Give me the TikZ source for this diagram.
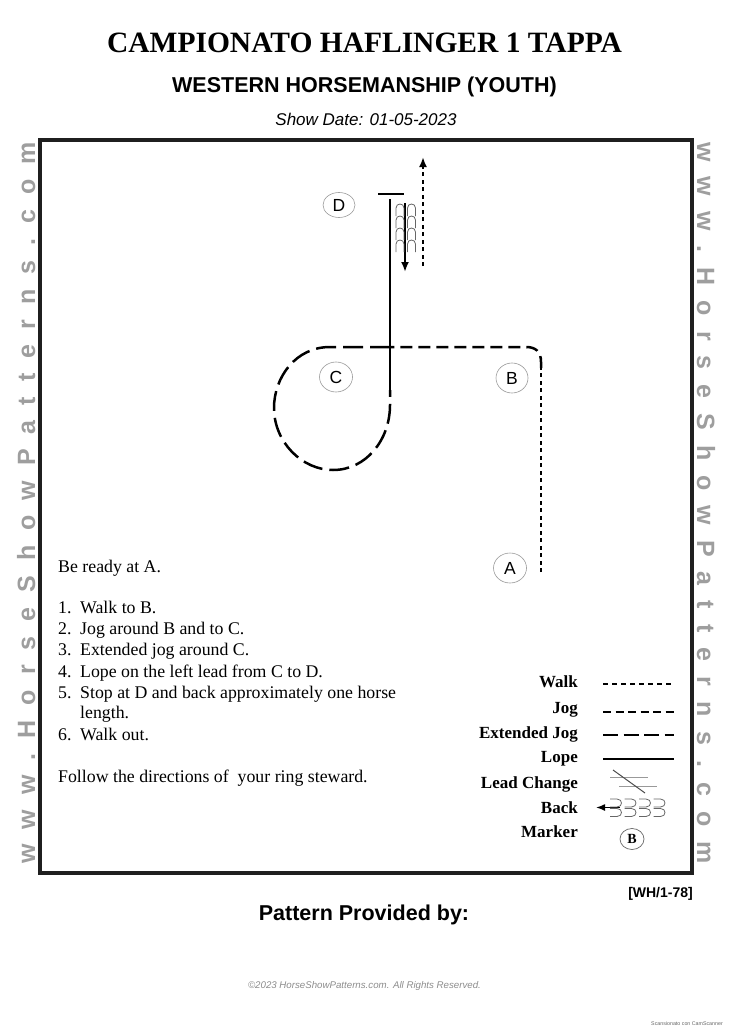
\documentclass[tikz,border=0pt]{standalone}
\usepackage{fontspec}
\setmainfont{Liberation Serif}
\newfontfamily\arial{Liberation Sans}
\usetikzlibrary{shapes.geometric,arrows.meta}
\newcommand\sgap{\kern15pt}
\newcommand\sitetext{w\sgap w\sgap w\sgap .\sgap H\sgap o\sgap r\sgap s\sgap e\sgap S\sgap h\sgap o\sgap w\sgap P\sgap a\sgap t\sgap t\sgap e\sgap r\sgap n\sgap s\sgap .\sgap c\sgap o\sgap m}
\tikzset{
  walkline/.style={line width=2.4pt, dash pattern=on 4pt off 3.5pt},
  jogline/.style={line width=2.5pt, dash pattern=on 12pt off 6pt},
  extjog/.style={line width=2.5pt, dash pattern=on 20pt off 7pt},
  lopeline/.style={line width=2pt},
  marker/.style={ellipse, draw=black!40, line width=0.6pt, inner sep=0pt, font=\arial\fontsize{17.5}{17.5}\selectfont},
  sidetext/.style={text=black!38, font=\arial\bfseries\fontsize{25}{25}\selectfont, inner sep=0pt},
  legtext/.style={anchor=base east, inner sep=0pt, font=\bfseries\fontsize{17}{17}\selectfont},
  legwalk/.style={line width=2pt, dash pattern=on 5pt off 4pt},
  legjog/.style={line width=2pt, dash pattern=on 8pt off 4.5pt},
  legext/.style={line width=2pt, dash pattern=on 15pt off 5.5pt},
  bodytext/.style={anchor=base west, inner sep=0pt, font=\fontsize{17.8}{18}\selectfont},
  tip/.style={-{Latex[length=10pt,width=8pt]}},
  archline/.style={black!60, line width=0.8pt}
}
\begin{document}
\begin{tikzpicture}[x=1pt,y=-1pt]
\useasboundingbox (0,0) rectangle (729,1030);
% headings
\node[anchor=base, inner sep=0pt, font=\bfseries\fontsize{29.5}{30}\selectfont] (title) at (364.5,53) {CAMPIONATO HAFLINGER 1 TAPPA};
\node[anchor=base, inner sep=0pt, font=\arial\bfseries\fontsize{21.5}{22}\selectfont] (sub) at (364.5,93) {WESTERN HORSEMANSHIP (YOUTH)};
\node[anchor=base, inner sep=0pt, font=\arial\itshape\fontsize{17}{17}\selectfont] (date) at (366,126) {Show Date: 01-05-2023};
% border
\draw[line width=4.5pt, color=black!88] (40,140) rectangle (692,873);
% side texts
\node[sidetext, anchor=base, rotate=90] (lside) at (35,503) {\sitetext};
\node[sidetext, anchor=base, rotate=-90] (rside) at (697,503) {\sitetext};
% markers
\node[marker, minimum width=32pt, minimum height=25pt] (D) at (339,205) {D};
\node[marker, minimum width=33pt, minimum height=30pt] (C) at (336,377) {C};
\node[marker, minimum width=32pt, minimum height=30pt] (B) at (512,378) {B};
\node[marker, minimum width=33pt, minimum height=30pt] (A) at (510,568) {A};
% pattern
\coordinate (a0) at (541,572);
\coordinate (b0) at (541,368);
\coordinate (c0) at (390,347);
\coordinate (c1) at (390,390);
\coordinate (d0) at (390,199);
\draw[walkline] (a0) -- (b0);
\draw[jogline] (b0) -- (541,362) .. controls (541,352) and (536,347) .. (526,347) -- (c0);
\draw[extjog] (c0) -- (330,347) .. controls (296,347) and (274,377) .. (274,408)
   .. controls (274,442) and (302,470) .. (333,470)
   .. controls (366,470) and (390,440) .. (390,405) -- (c1);
\draw[lopeline] (c1) -- (d0);
\draw[line width=2pt] (378,194) -- (404,194);
\coordinate (bk0) at (405,203);
\coordinate (bk1) at (405,272);
\draw[line width=2pt, tip] (bk0) -- (bk1);
\foreach \y in {204,216,228,240}{
  \foreach \x in {400,411.5}{
    \draw[archline] ({\x-4},{\y+12}) -- ({\x-4},{\y+4}) .. controls ({\x-4},{\y-1.3}) and ({\x+4},{\y-1.3}) .. ({\x+4},{\y+4}) -- ({\x+4},{\y+12});
  }
}
\coordinate (wo0) at (423,266);
\coordinate (wo1) at (423,157);
\draw[walkline, tip] (wo0) -- (wo1);
% instructions
\node[bodytext] (t0) at (58,572) {Be ready at A.};
\node[bodytext] (n1) at (58,613) {1.};
\node[bodytext] (t1) at (80,613) {Walk to B.};
\node[bodytext] (n2) at (58,634) {2.};
\node[bodytext] (t2) at (80,634) {Jog around B and to C.};
\node[bodytext] (n3) at (58,655) {3.};
\node[bodytext] (t3) at (80,655) {Extended jog around C.};
\node[bodytext] (n4) at (58,677) {4.};
\node[bodytext] (t4) at (80,677) {Lope on the left lead from C to D.};
\node[bodytext] (n5) at (58,698) {5.};
\node[bodytext] (t5) at (80,698) {Stop at D and back approximately one horse};
\node[bodytext] (t5b) at (80,718) {length.};
\node[bodytext] (n6) at (58,740) {6.};
\node[bodytext] (t6) at (80,740) {Walk out.};
\node[bodytext] (t7) at (58,782) {Follow the directions of\ \ your ring steward.};
% legend
\node[legtext] (lw) at (578,687) {Walk};
\node[legtext] (lj) at (578,713) {Jog};
\node[legtext] (le) at (578,738) {Extended Jog};
\node[legtext] (ll) at (578,762) {Lope};
\node[legtext] (lc) at (578,788) {Lead Change};
\node[legtext] (lb) at (578,813) {Back};
\node[legtext] (lm) at (578,837) {Marker};
\draw[legwalk] (603,684) -- (674,684);
\draw[legjog] (603,712) -- (674,712);
\draw[legext] (603,735) -- (674,735);
\draw[line width=2pt] (603,759) -- (674,759);
\draw[black!40, line width=1pt] (610,777) -- (648,777);
\draw[black!40, line width=1pt] (619,786) -- (657,786);
\draw[black!70, line width=1pt] (613,770) -- (645,793);
\coordinate (lbk0) at (620,807.5);
\coordinate (lbk1) at (596,807.5);
\draw[line width=1.5pt, -{Latex[length=9pt,width=7pt]}] (lbk0) -- (lbk1);
\foreach \y in {803,812.5}{
  \foreach \x in {610,624.5,639,653.5}{
    \draw[archline] (\x,{\y-4}) -- ({\x+7},{\y-4}) .. controls ({\x+13},{\y-4}) and ({\x+13},{\y+4}) .. ({\x+7},{\y+4}) -- (\x,{\y+4});
  }
}
\node[ellipse, draw=black!60, line width=0.7pt, inner sep=0pt, minimum width=24pt, minimum height=21pt, font=\bfseries\fontsize{14}{14}\selectfont] (lmk) at (632,839) {B};
% footer
\node[anchor=base east, inner sep=0pt, font=\arial\bfseries\fontsize{14}{14}\selectfont] (code) at (693,897) {[WH/1-78]};
\node[anchor=base, inner sep=0pt, font=\arial\bfseries\fontsize{21.5}{22}\selectfont] (prov) at (364,920) {Pattern Provided by:};
\node[anchor=base, inner sep=0pt, text=black!45, font=\arial\itshape\fontsize{9.7}{10}\selectfont] (copy) at (364.5,988) {©2023 HorseShowPatterns.com. All Rights Reserved.};
\node[anchor=base east, inner sep=0pt, text=black!60, font=\arial\fontsize{5.3}{6}\selectfont] (cam) at (723,1025) {Scansionato con CamScanner};
\end{tikzpicture}
\end{document}
